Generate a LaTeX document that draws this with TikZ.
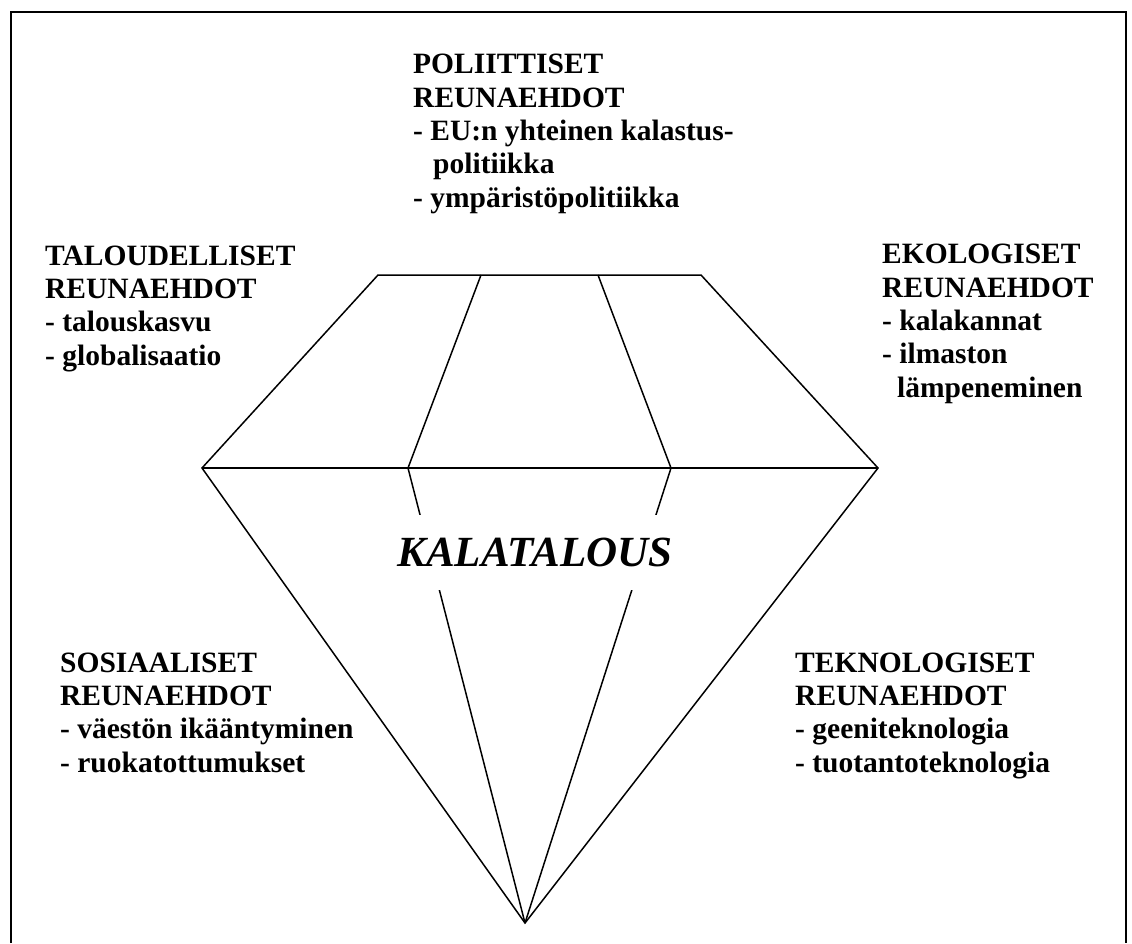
\documentclass[tikz,border=0pt]{standalone}
\usepackage{fontspec}
\setmainfont{Liberation Serif}
\usepackage{tikz}
\usetikzlibrary{calc}

\tikzset{
  reuna/.style={anchor=base west, align=left, inner sep=0pt, font=\fontsize{29.5}{33.3}\selectfont\bfseries},
  viiva/.style={line width=1.5pt, line join=miter},
}

\begin{document}
\begin{tikzpicture}[x=1pt,y=-1pt]
\useasboundingbox (0,0) rectangle (1132,943);

% frame
\draw[line width=2pt] (11,943) -- (11,12) -- (1126,12) -- (1126,943);

% diamond
\coordinate (tl) at (378,275);
\coordinate (t1) at (481,275);
\coordinate (t2) at (598,275);
\coordinate (tr) at (701,275);
\coordinate (l) at (202,468);
\coordinate (m1) at (408,468);
\coordinate (m2) at (671,468);
\coordinate (r) at (878,468);
\coordinate (apex) at (525,923);

\draw[viiva] (tl) -- (tr) -- (r) -- (apex) -- (l) -- cycle;
\draw[viiva] (l) -- (r);
\draw[viiva] (t1) -- (m1) -- (apex);
\draw[viiva] (t2) -- (m2) -- (apex);

\node[fill=white, minimum height=75pt, inner sep=0pt, font=\fontsize{43}{43}\selectfont\bfseries\itshape] (kalatalous) at (535,552) {KALATALOUS};

% texts: anchor is the baseline of the last line
\node[reuna] (poliittiset) at (413,207) {POLIITTISET\\REUNAEHDOT\\- EU:n yhteinen kalastus-\\\hspace*{20pt}politiikka\\- ympäristöpolitiikka};
\node[reuna] (taloudelliset) at (45,365) {TALOUDELLISET\\REUNAEHDOT\\- talouskasvu\\- globalisaatio};
\node[reuna] (ekologiset) at (882,397) {EKOLOGISET\\REUNAEHDOT\\- kalakannat\\- ilmaston\\\hspace*{15pt}lämpeneminen};
\node[reuna] (sosiaaliset) at (60,772) {SOSIAALISET\\REUNAEHDOT\\- väestön ikääntyminen\\- ruokatottumukset};
\node[reuna] (teknologiset) at (795,772) {TEKNOLOGISET\\REUNAEHDOT\\- geeniteknologia\\- tuotantoteknologia};
\end{tikzpicture}
\end{document}
